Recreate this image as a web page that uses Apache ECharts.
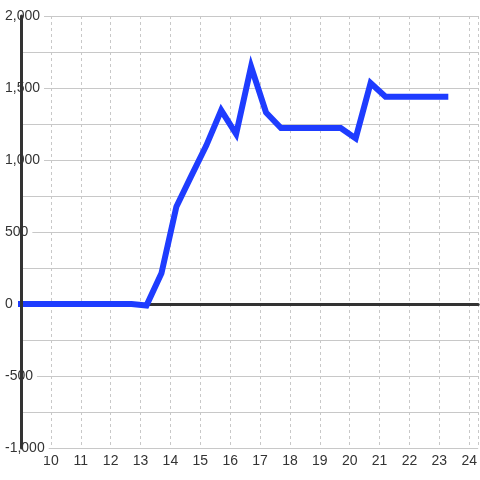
<!DOCTYPE html>
<html>
<head>
<meta charset="utf-8">
<script src="https://cdn.jsdelivr.net/npm/echarts@6/dist/echarts.min.js"></script>
<style>
  html, body { margin: 0; padding: 0; background: #fff; }
  #chart { width: 480px; height: 480px; }
</style>
</head>
<body>
<div id="chart"></div>
<script>
// Data
const xValues = [9, 9.7, 10.2, 10.7, 11.2, 11.7, 12.2, 12.7, 13.2, 13.7, 14.2, 14.7, 15.2, 15.7, 16.2, 16.7, 17.2, 17.7, 18.2, 18.7, 19.2, 19.7, 20.2, 20.7, 21.2, 21.7, 22.2, 22.7, 23.2];
const yValues = [0, 0, 0, 0, 0, 0, 0, 0, -10, 213, 676, 890, 1100, 1345, 1180, 1648, 1330, 1222, 1222, 1222, 1222, 1222, 1150, 1535, 1440, 1440, 1440, 1440, 1440];
const xMin = 9, xMax = 24.3, xStep = 1;
const yMin = -1000, yMax = 2000, yStep = 500;

const FONT = 'Liberation Sans';
const fmtNum = v => {
  const s = Math.abs(v).toString().replace(/\B(?=(\d{3})+(?!\d))/g, ',');
  return (v < 0 ? '-' : '') + s;
};

const chart = echarts.init(document.getElementById('chart'), null, { renderer: 'canvas' });
chart.setOption({
  animation: false,
  backgroundColor: '#fff',
  grid: { left: 21, right: 0, top: 16, bottom: 32, containLabel: false },
  xAxis: [
    {
      type: 'value', min: xMin, max: xMax, interval: xStep, position: 'bottom',
      axisLine: { show: false, onZero: false },
      axisTick: { show: false },
      axisLabel: {
        show: true, margin: 6, color: '#333', fontFamily: FONT, fontSize: 14,
        showMinLabel: false, showMaxLabel: false,
        formatter: v => (Number.isInteger(v) ? String(v) : '')
      },
      splitLine: { show: true, lineStyle: { color: '#c8c8c8', width: 1, type: [3, 3] } }
    },
    {
      type: 'value', min: xMin, max: xMax, interval: xStep, position: 'bottom', z: 1,
      axisLine: { show: true, onZero: true, onZeroAxisIndex: 0, lineStyle: { color: '#333', width: 3 } },
      axisTick: { show: false }, axisLabel: { show: false }, splitLine: { show: false }
    }
  ],
  yAxis: [
    {
      type: 'value', min: yMin, max: yMax, interval: yStep, z: 0,
      axisLine: { show: false }, axisTick: { show: false }, axisLabel: { show: false },
      splitLine: { show: true, lineStyle: { color: '#c8c8c8', width: 1 } },
      minorTick: { show: false, splitNumber: 2 },
      minorSplitLine: { show: true, lineStyle: { color: '#c8c8c8', width: 1 } }
    },
    {
      type: 'value', min: yMin, max: yMax, interval: yStep, position: 'left', z: 3,
      axisLine: { show: false }, axisTick: { show: false }, splitLine: { show: false },
      axisLabel: {
        show: true, margin: 18, align: 'left', color: '#333', fontFamily: FONT, fontSize: 14,
        backgroundColor: '#fff', padding: [1, 4, 1, 2],
        formatter: v => fmtNum(v)
      }
    },
    {
      type: 'value', min: yMin, max: yMax, interval: yStep, position: 'left', z: 5,
      axisLine: { show: true, onZero: false, lineStyle: { color: '#333', width: 3 } },
      axisTick: { show: false }, axisLabel: { show: false }, splitLine: { show: false }
    }
  ],
  series: [
    {
      type: 'line',
      xAxisIndex: 0, yAxisIndex: 0,
      data: xValues.map((x, i) => [x, yValues[i]]),
      showSymbol: false, symbol: 'none',
      clip: false,
      z: 2,
      lineStyle: { color: '#1e3cff', width: 6, cap: 'square', join: 'miter' }
    }
  ]
});
</script>
</body>
</html>
